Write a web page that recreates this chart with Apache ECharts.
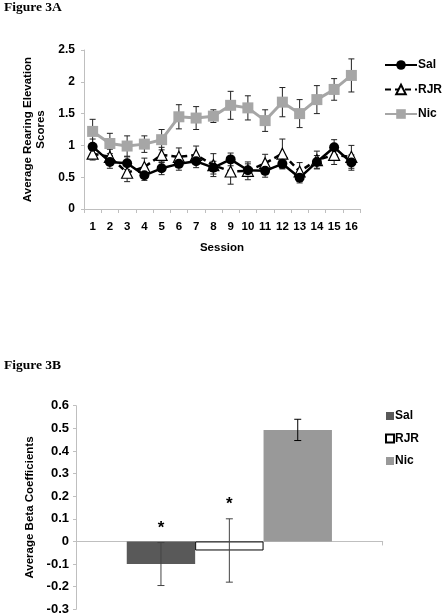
<!DOCTYPE html>
<html>
<head>
<meta charset="utf-8">
<script src="https://cdn.jsdelivr.net/npm/echarts@6/dist/echarts.min.js"></script>
<style>
html,body{margin:0;padding:0;background:#fff;}
#a{position:absolute;left:0;top:0;width:445px;height:308px;}
#b{position:absolute;left:0;top:308px;width:445px;height:308px;}
</style>
</head>
<body>
<div id="a"></div>
<div id="b"></div>
<script>
// ---- Figure 3A data ----
var sessions = ['1','2','3','4','5','6','7','8','9','10','11','12','13','14','15','16'];
var salA = [0.98,0.74,0.72,0.53,0.64,0.71,0.75,0.65,0.78,0.61,0.60,0.71,0.49,0.74,0.97,0.73];
var salAErr = [0.12,0.10,0.10,0.08,0.10,0.10,0.10,0.10,0.10,0.10,0.10,0.08,0.08,0.10,0.12,0.12];
var rjrA = [0.87,0.82,0.57,0.66,0.85,0.82,0.85,0.69,0.59,0.60,0.72,0.87,0.59,0.77,0.85,0.82];
var rjrAErr = [0.10,0.12,0.14,0.14,0.12,0.14,0.14,0.18,0.20,0.14,0.14,0.23,0.14,0.14,0.15,0.18];
var nicA = [1.22,1.03,0.99,1.02,1.09,1.45,1.43,1.46,1.63,1.59,1.39,1.68,1.50,1.72,1.88,2.10];
var nicAErr = [0.19,0.16,0.16,0.13,0.16,0.19,0.18,0.10,0.22,0.19,0.17,0.23,0.22,0.22,0.17,0.26];
var yTicksA = [0, 0.5, 1, 1.5, 2, 2.5];

// ---- Figure 3B data ----
var groupsB = ['Sal','RJR','Nic'];
var betaB = [-0.10, -0.04, 0.493];
var betaBErr = [0.095, 0.14, 0.047];
var signifB = [true, true, false];
var yTicksB = [-0.3,-0.2,-0.1,0,0.1,0.2,0.3,0.4,0.5,0.6];

var SANS = 'Liberation Sans, Arial, sans-serif';
var SERIF = 'Liberation Serif, Times New Roman, serif';
var AX = '#bfbfbf';

function errData(vals, errs) {
  return vals.map(function (v, i) { return [i, v, errs[i]]; });
}
function errRender(color, offsetFn, cap) {
  return function (params, api) {
    var i = api.value(0), v = api.value(1), e = api.value(2);
    var hi = api.coord([i, v + e]);
    var lo = api.coord([i, v - e]);
    var x = hi[0] + offsetFn(api);
    var st = { stroke: color, lineWidth: 1 };
    return { type: 'group', children: [
      { type: 'line', shape: { x1: x, y1: hi[1], x2: x, y2: lo[1] }, style: st },
      { type: 'line', shape: { x1: x - cap, y1: hi[1], x2: x + cap, y2: hi[1] }, style: st },
      { type: 'line', shape: { x1: x - cap, y1: lo[1], x2: x + cap, y2: lo[1] }, style: st }
    ]};
  };
}

var chartA = echarts.init(document.getElementById('a'));
chartA.setOption({
  animation: false,
  textStyle: { fontFamily: SANS },
  title: { text: 'Figure 3A', left: 4, top: 1, padding: 0, textStyle: { fontFamily: SERIF, fontWeight: 'bold', fontSize: 13.5, color: '#000' } },
  grid: { left: 84, top: 50, width: 276, height: 159 },
  legend: {
    orient: 'vertical', left: 384, top: 59, itemWidth: 32, itemHeight: 12, itemGap: 12.5, padding: 0,
    textStyle: { fontFamily: SANS, fontWeight: 'bold', fontSize: 12, color: '#000', padding: [0,0,0,-4] },
    data: ['Sal','RJR','Nic']
  },
  xAxis: {
    type: 'category', data: sessions, boundaryGap: true,
    axisLine: { lineStyle: { color: AX } },
    axisTick: { show: true, length: 4, lineStyle: { color: AX } },
    axisLabel: { fontWeight: 'bold', fontSize: 11.5, color: '#000', margin: 12, fontFamily: SANS },
    name: 'Session', nameLocation: 'middle', nameGap: 33,
    nameTextStyle: { fontWeight: 'bold', fontSize: 11.5, color: '#000', fontFamily: SANS }
  },
  yAxis: {
    type: 'value', min: yTicksA[0], max: yTicksA[yTicksA.length-1], interval: 0.5,
    axisLine: { show: true, lineStyle: { color: AX } },
    axisTick: { show: true, length: 3, lineStyle: { color: AX } },
    splitLine: { show: false },
    axisLabel: { fontWeight: 'bold', fontSize: 12, color: '#000', margin: 9, fontFamily: SANS },
    name: 'Average Rearing Elevation\nScores', nameLocation: 'middle', nameGap: 34, nameRotate: 90,
    nameTextStyle: { fontWeight: 'bold', fontSize: 11.5, color: '#000', lineHeight: 13, fontFamily: SANS }
  },
  series: [
    { type: 'custom', name: 'errNic', data: errData(nicA, nicAErr), renderItem: errRender('#222', function(){return 0;}, 3), z: 1, encode: {x:0,y:1}, silent: true },
    { type: 'custom', name: 'errRJR', data: errData(rjrA, rjrAErr), renderItem: errRender('#222', function(){return 0;}, 3), z: 1, encode: {x:0,y:1}, silent: true },
    { type: 'custom', name: 'errSal', data: errData(salA, salAErr), renderItem: errRender('#222', function(){return 0;}, 3), z: 1, encode: {x:0,y:1}, silent: true },
    { type: 'line', name: 'Nic', data: nicA, symbol: 'rect', symbolSize: 11, z: 3,
      lineStyle: { color: '#a6a6a6', width: 3 }, itemStyle: { color: '#a6a6a6' } },
    { type: 'line', name: 'RJR', data: rjrA, symbol: 'triangle', symbolSize: 11, z: 4,
      lineStyle: { color: '#000', width: 2.5, type: [6,4] }, itemStyle: { color: '#fff', borderColor: '#000', borderWidth: 1.2 } },
    { type: 'line', name: 'Sal', data: salA, symbol: 'circle', symbolSize: 10, z: 5,
      lineStyle: { color: '#000', width: 2.5 }, itemStyle: { color: '#000' } }
  ]
});

var chartB = echarts.init(document.getElementById('b'));
var barFrac = 0.223;
function barOff(k) {
  return function (api) { return k * barFrac * api.size([1, 0])[0]; };
}
var colorsB = ['#595959', '#ffffff', '#999999'];
var borderB = [null, '#000', null];
var errColB = ['#444', '#444', '#000'];
var seriesB = [];
groupsB.forEach(function (g, k) {
  seriesB.push({
    type: 'bar', name: g, data: [betaB[k]], barWidth: (barFrac*100) + '%', barGap: '0%',
    itemStyle: { color: colorsB[k], borderColor: borderB[k] || colorsB[k], borderWidth: borderB[k] ? 1 : 0 }
  });
});
groupsB.forEach(function (g, k) {
  seriesB.push({
    type: 'custom', name: 'err' + g, data: [[0, betaB[k], betaBErr[k]]], encode: {x:0,y:1}, z: 5, silent: true,
    renderItem: (function (kk) {
      var base = errRender(errColB[kk], barOff(kk - 1), 3.5);
      return function (params, api) {
        var grp = base(params, api);
        if (signifB[kk]) {
          var top = api.coord([0, api.value(1) + api.value(2)]);
          grp.children.push({ type: 'text', style: {
            text: '*', x: top[0] + barOff(kk - 1)(api), y: top[1] - 6,
            align: 'center', verticalAlign: 'bottom',
            font: 'bold 17px ' + SANS, fill: '#000' } });
        }
        return grp;
      };
    })(k)
  });
});

chartB.setOption({
  animation: false,
  textStyle: { fontFamily: SANS },
  title: { text: 'Figure 3B', left: 4, top: 51, padding: 0, textStyle: { fontFamily: SERIF, fontWeight: 'bold', fontSize: 13.5, color: '#000' } },
  grid: { left: 76, top: 97.7, width: 306.7, height: 203.6 },
  legend: {
    orient: 'vertical', left: 385, top: 102, itemWidth: 8, itemHeight: 8, itemGap: 10.5, padding: 0,
    icon: 'rect',
    textStyle: { fontFamily: SANS, fontWeight: 'bold', fontSize: 12, color: '#000', padding: [0,0,0,-4] },
    data: groupsB
  },
  xAxis: {
    type: 'category', data: [''], boundaryGap: true,
    axisLine: { onZero: true, lineStyle: { color: AX } },
    axisTick: { show: true, length: 4, lineStyle: { color: AX } },
    axisLabel: { show: false }
  },
  yAxis: {
    type: 'value', min: yTicksB[0], max: yTicksB[yTicksB.length-1], interval: 0.1,
    axisLine: { show: true, lineStyle: { color: AX } },
    axisTick: { show: true, length: 3, lineStyle: { color: AX } },
    splitLine: { show: false },
    axisLabel: { fontWeight: 'bold', fontSize: 13, color: '#000', margin: 7, fontFamily: SANS,
      formatter: function (v) { return String(Math.round(v * 10) / 10); } },
    name: 'Average Beta Coefficients', nameLocation: 'middle', nameGap: 40, nameRotate: 90,
    nameTextStyle: { fontWeight: 'bold', fontSize: 11.5, color: '#000', fontFamily: SANS }
  },
  series: seriesB
});
</script>
</body>
</html>
